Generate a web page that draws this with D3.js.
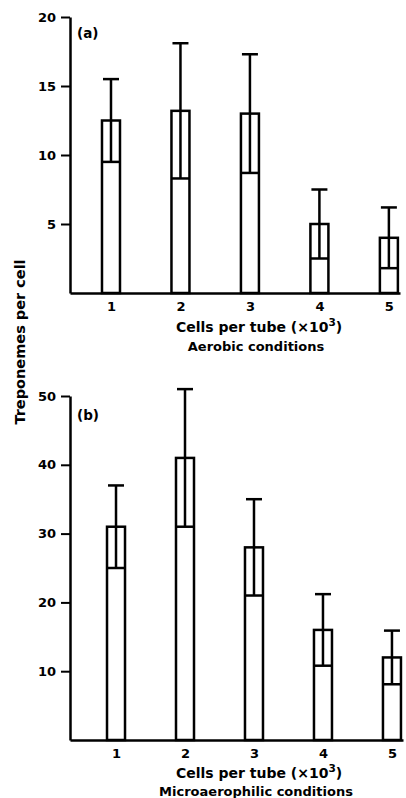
<!DOCTYPE html>
<html>
<head>
<meta charset="utf-8">
<script src="https://cdn.jsdelivr.net/npm/d3@7"></script>
<style>
  body { margin: 0; background: #fff; }
  text { font-family: "DejaVu Sans", sans-serif; fill: #000; font-weight: bold; }
</style>
</head>
<body>
<svg id="svg"></svg>
<script>
const width = 406, height = 798;

// data (mean and +/- spread per cell density)
const categories = [1, 2, 3, 4, 5];
const aerobicMean = [12.5, 13.2, 13.0, 5.0, 4.0];
const aerobicSd = [3.0, 4.9, 4.3, 2.5, 2.2];
const microMean = [31, 41, 28, 16, 12];
const microSd = [6, 10, 7, 5.2, 3.9];
const aerobicTicks = [5, 10, 15, 20];
const microTicks = [10, 20, 30, 40, 50];

const svg = d3.select("#svg").attr("width", width).attr("height", height);

drawPanel({
    label: "(a)", means: aerobicMean, sds: aerobicSd, ticks: aerobicTicks, yMax: 20,
    yRange: [293, 17], xDomain: [0.41, 5.16], xRange: [70, 400],
    subtitle: "Aerobic conditions", titleY: 332, subY: 351, labelY: 38
});
drawPanel({
    label: "(b)", means: microMean, sds: microSd, ticks: microTicks, yMax: 50,
    yRange: [740, 396], xDomain: [0.333, 5.16], xRange: [70, 403],
    subtitle: "Microaerophilic conditions", titleY: 778, subY: 796, labelY: 420
});

svg.append("text")
    .attr("transform", "translate(25,342) rotate(-90)")
    .attr("text-anchor", "middle")
    .style("font-size", "14.5px")
    .text("Treponemes per cell");

function drawPanel(p) {
    let y = d3.scaleLinear().domain([0, p.yMax]).range(p.yRange);
    let x = d3.scaleLinear().domain(p.xDomain).range(p.xRange);
    let g = svg.append("g");

    let yAxis = g.append("g")
        .attr("transform", `translate(${p.xRange[0]},0)`)
        .call(d3.axisLeft(y).tickValues(p.ticks).tickSize(9).tickSizeOuter(0).tickPadding(5));
    yAxis.select(".domain").attr("stroke-width", 2.5);
    yAxis.selectAll(".tick line").attr("stroke-width", 2);
    yAxis.selectAll("text").style("font-size", "13px").style("font-family", "DejaVu Sans").style("font-weight", "bold");

    let xAxis = g.append("g")
        .attr("transform", `translate(0,${p.yRange[0]})`)
        .call(d3.axisBottom(x).tickValues(categories).tickFormat(d3.format("d")).tickSize(0).tickSizeOuter(0).tickPadding(9));
    xAxis.select(".domain").attr("stroke-width", 2.5);
    xAxis.selectAll("text").style("font-size", "13px").style("font-family", "DejaVu Sans").style("font-weight", "bold");

    let bw = 18, cw = 16;
    let bars = g.selectAll(".bar").data(categories).enter().append("g")
        .attr("fill", "none").attr("stroke", "#000").attr("stroke-width", 2.5);

    bars.append("rect")
        .attr("x", d => x(d) - bw / 2)
        .attr("y", (d, i) => y(p.means[i]))
        .attr("width", bw)
        .attr("height", (d, i) => y(0) - y(p.means[i]));
    bars.append("line")
        .attr("x1", d => x(d) - bw / 2).attr("x2", d => x(d) + bw / 2)
        .attr("y1", (d, i) => y(p.means[i] - p.sds[i]))
        .attr("y2", (d, i) => y(p.means[i] - p.sds[i]));
    bars.append("line")
        .attr("x1", d => x(d)).attr("x2", d => x(d))
        .attr("y1", (d, i) => y(p.means[i] - p.sds[i]))
        .attr("y2", (d, i) => y(p.means[i] + p.sds[i]));
    bars.append("line")
        .attr("x1", d => x(d) - cw / 2).attr("x2", d => x(d) + cw / 2)
        .attr("y1", (d, i) => y(p.means[i] + p.sds[i]))
        .attr("y2", (d, i) => y(p.means[i] + p.sds[i]));

    g.append("text")
        .attr("x", 77).attr("y", p.labelY)
        .style("font-size", "13.5px")
        .text(p.label);

    let t = g.append("text")
        .attr("x", 259).attr("y", p.titleY)
        .attr("text-anchor", "middle")
        .style("font-size", "14px");
    t.append("tspan").text("Cells per tube (\u00d710");
    t.append("tspan").attr("dy", -6).style("font-size", "10.5px").text("3");
    t.append("tspan").attr("dy", 6).text(")");

    g.append("text")
        .attr("x", 256).attr("y", p.subY)
        .attr("text-anchor", "middle")
        .style("font-size", "13px")
        .text(p.subtitle);
}
</script>
</body>
</html>
